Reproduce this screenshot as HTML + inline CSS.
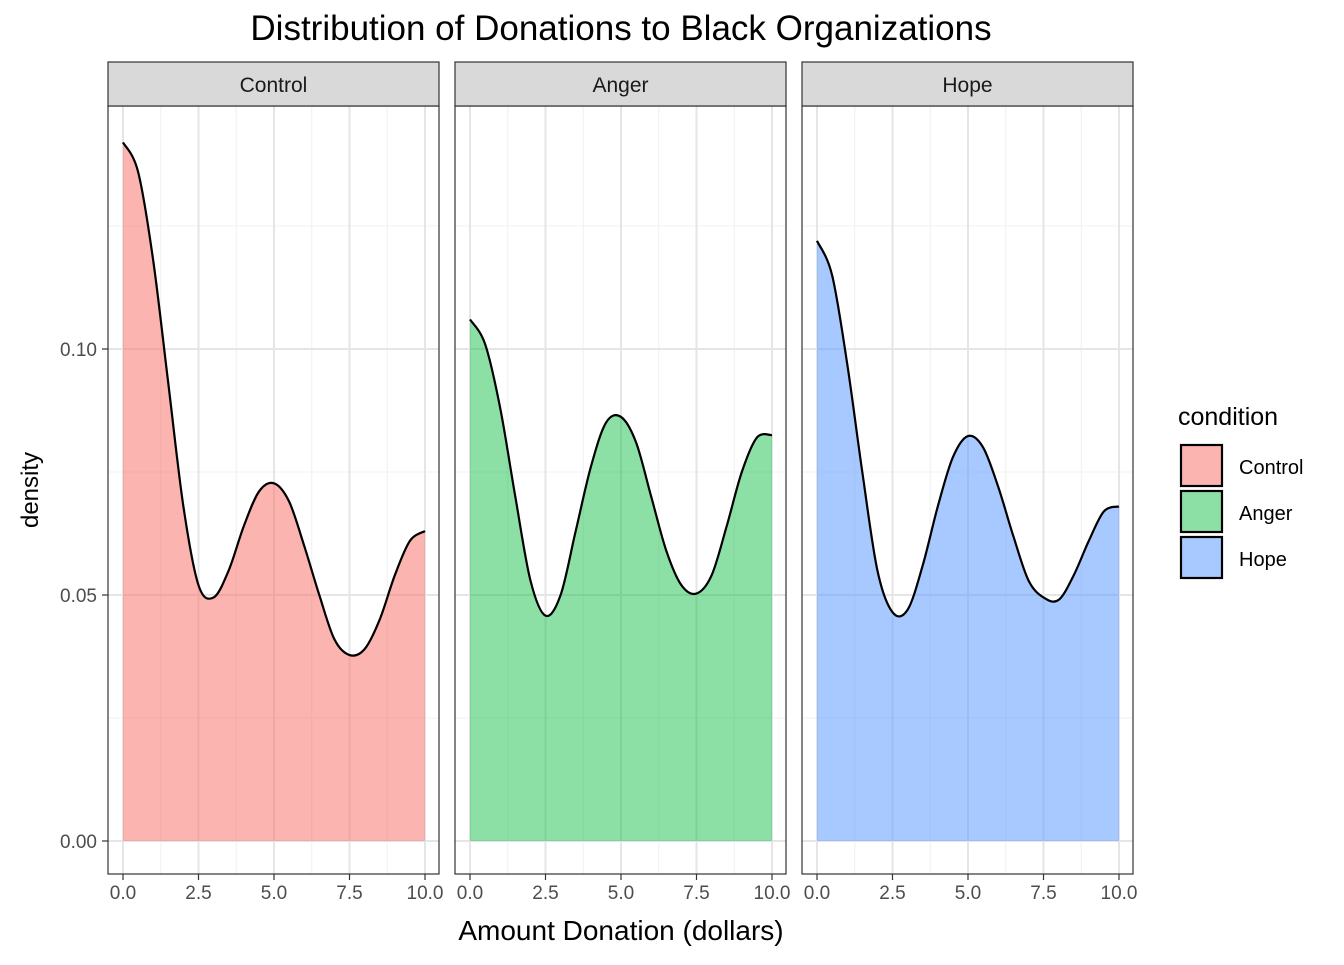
<!DOCTYPE html>
<html><head><meta charset="utf-8"><style>
body{margin:0;background:#fff;}
text{font-family:"Liberation Sans",Arial,sans-serif;}
</style></head><body>
<svg id="chart" width="1344" height="960" xmlns="http://www.w3.org/2000/svg">
<text x="621" y="40" font-size="35" text-anchor="middle" fill="#000">Distribution of Donations to Black Organizations</text>
<g id="panels"></g>
<text x="621" y="940" font-size="28" text-anchor="middle">Amount Donation (dollars)</text>
<text transform="translate(38,490) rotate(-90)" font-size="24" text-anchor="middle">density</text>
<g id="legend"></g>
</svg>
<script>
const panels = ["Control","Anger","Hope"];
const xSample = [0,0.5,1,1.5,2,2.5,3,3.5,4,4.5,5,5.5,6,6.5,7,7.5,8,8.5,9,9.5,10];
const controlDensity = [0.142,0.136,0.118,0.093,0.068,0.052,0.0495,0.055,0.064,0.071,0.0727,0.069,0.060,0.050,0.041,0.0378,0.039,0.045,0.054,0.061,0.063];
const angerDensity = [0.106,0.101,0.088,0.070,0.053,0.0458,0.050,0.063,0.076,0.085,0.0862,0.081,0.070,0.059,0.052,0.0503,0.054,0.064,0.075,0.082,0.0825];
const hopeDensity = [0.122,0.115,0.097,0.075,0.055,0.0465,0.047,0.056,0.068,0.078,0.0823,0.080,0.072,0.062,0.053,0.0495,0.049,0.054,0.061,0.067,0.068];
const xTicks = [0,2.5,5,7.5,10];
const xTickLabels = ["0.0","2.5","5.0","7.5","10.0"];
const yTicks = [0,0.05,0.1];
const yTickLabels = ["0.00","0.05","0.10"];
const colors = ["#F8766D","#00BA38","#619CFF"];
const opac = [0.55,0.45,0.55];
const series = [controlDensity, angerDensity, hopeDensity];

const NS="http://www.w3.org/2000/svg";
function mk(tag, attrs, parent){const e=document.createElementNS(NS,tag);for(const k in attrs)e.setAttribute(k,attrs[k]);parent.appendChild(e);return e;}
const panelLeft=[108,455,802], panelW=331, panelTop=106, panelBottom=874;
const yScale=v=>841-v*4920;
function smoothPath(pts){
  let d=`M${pts[0][0]},${pts[0][1]}`;
  for(let i=0;i<pts.length-1;i++){
    const p0=pts[Math.max(0,i-1)],p1=pts[i],p2=pts[i+1],p3=pts[Math.min(pts.length-1,i+2)];
    const c1=[p1[0]+(p2[0]-p0[0])/6,p1[1]+(p2[1]-p0[1])/6];
    const c2=[p2[0]-(p3[0]-p1[0])/6,p2[1]-(p3[1]-p1[1])/6];
    d+=` C${c1[0]},${c1[1]} ${c2[0]},${c2[1]} ${p2[0]},${p2[1]}`;
  }
  return d;
}
const g=document.getElementById('panels');
panels.forEach((name,pi)=>{
  const L=panelLeft[pi];
  const xScale=v=>L+15+v*30.2;
  const pg=mk('g',{},g);
  
  
  mk('rect',{x:L,y:panelTop,width:panelW,height:panelBottom-panelTop,fill:'#fff'},pg);
  [1.25,3.75,6.25,8.75].forEach(v=>mk('line',{x1:xScale(v),x2:xScale(v),y1:panelTop,y2:panelBottom,stroke:'#f0f0f0','stroke-width':1},pg));
  [0.025,0.075,0.125].forEach(v=>mk('line',{x1:L,x2:L+panelW,y1:yScale(v),y2:yScale(v),stroke:'#f0f0f0','stroke-width':1},pg));
  xTicks.forEach(v=>mk('line',{x1:xScale(v),x2:xScale(v),y1:panelTop,y2:panelBottom,stroke:'#e5e5e5','stroke-width':2},pg));
  yTicks.forEach(v=>mk('line',{x1:L,x2:L+panelW,y1:yScale(v),y2:yScale(v),stroke:'#e5e5e5','stroke-width':2},pg));
  const pts=xSample.map((xv,i)=>[xScale(xv),yScale(series[pi][i])]);
  const line=smoothPath(pts);
  const area=mk('path',{d:line+` L${xScale(10)},${yScale(0)} L${xScale(0)},${yScale(0)} Z`,fill:colors[pi],'fill-opacity':opac[pi]},pg);
  
  
  const ln=mk('path',{d:line,fill:'none',stroke:'#000','stroke-width':2.2},pg);
  
  
  mk('rect',{x:L,y:panelTop,width:panelW,height:panelBottom-panelTop,fill:'none',stroke:'#333','stroke-width':1.2},pg);
  const st=mk('rect',{x:L,y:62,width:panelW,height:44,fill:'#d9d9d9',stroke:'#333','stroke-width':1.2},pg);
  
  
  const t=mk('text',{x:L+panelW/2,y:92,'font-size':21,'text-anchor':'middle',fill:'#1a1a1a'},pg);t.textContent=name;
  
  
  xTicks.forEach((v,i)=>{
    mk('line',{x1:xScale(v),x2:xScale(v),y1:panelBottom,y2:panelBottom+6,stroke:'#333','stroke-width':1.2},pg);
    const tt=mk('text',{x:xScale(v),y:panelBottom+25,'font-size':19,'text-anchor':'middle',fill:'#4d4d4d'},pg);tt.textContent=xTickLabels[i];
    
    
  });
  if(pi===0){
    yTicks.forEach((v,i)=>{
      mk('line',{x1:L-6,x2:L,y1:yScale(v),y2:yScale(v),stroke:'#333','stroke-width':1.2},pg);
      const tt=mk('text',{x:L-11,y:yScale(v)+7,'font-size':19,'text-anchor':'end',fill:'#4d4d4d'},pg);tt.textContent=yTickLabels[i];
      
      
    });
  }
});
const lg=document.getElementById('legend');
const lt=mk('text',{x:1178,y:425,'font-size':25,fill:'#000'},lg);lt.textContent='condition';


panels.forEach((name,i)=>{
  const yy=444+i*46;
  const r=mk('rect',{x:1181,y:yy+1,width:41,height:41,fill:colors[i],'fill-opacity':opac[i],stroke:'#000','stroke-width':2.2},lg);
  
  
  const t=mk('text',{x:1239,y:yy+30,'font-size':20,fill:'#000'},lg);t.textContent=name;
  
  
});
</script>
</body></html>
